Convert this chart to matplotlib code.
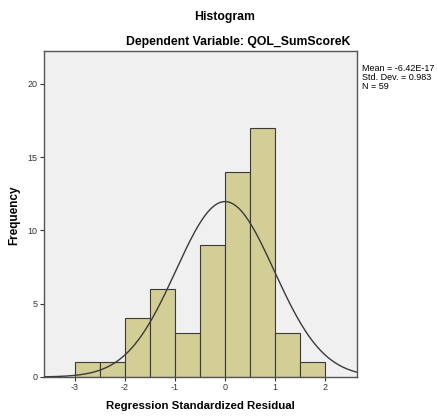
import matplotlib.pyplot as plt
import numpy as np

bin_edges = [-3.0, -2.5, -2.0, -1.5, -1.0, -0.5, 0.0, 0.5, 1.0, 1.5, 2.0]
counts = [1, 1, 4, 6, 3, 9, 14, 17, 3, 1]
mean_label = "-6.42E-17"
mean_val = -6.42e-17
std_val = 0.983
n_obs = 59
x_ticks = [-3, -2, -1, 0, 1, 2]
y_ticks = [0, 5, 10, 15, 20]

plt.rcParams["font.family"] = ["Liberation Sans", "DejaVu Sans"]
plt.rcParams["axes.unicode_minus"] = False

fig = plt.figure(figsize=(4.37, 4.17), dpi=100)
ax = fig.add_axes([44 / 437, 1 - 377 / 417, (357 - 44) / 437, (377 - 51) / 417])
ax.set_facecolor("#f0f0f0")

widths = np.diff(bin_edges)
ax.bar(bin_edges[:-1], counts, width=widths, align="edge",
       color="#d2ce96", edgecolor="#3a3a3a", linewidth=0.8, zorder=2)

# normal curve scaled to counts
xs = np.linspace(-3.62, 2.64, 300)
bw = widths[0]
ys = n_obs * bw / (std_val * np.sqrt(2 * np.pi)) * np.exp(-0.5 * ((xs - mean_val) / std_val) ** 2)
ax.plot(xs, ys, color="#3a3a3a", lw=1.0, zorder=3)

ax.set_xlim(-3.62, 2.64)
ax.set_ylim(0, 22.25)
ax.set_xticks(x_ticks)
ax.set_yticks(y_ticks)
ax.tick_params(labelsize=6.5, length=3, width=0.8, colors="#333333", pad=1.5)
for sp in ax.spines.values():
    sp.set_color("#555555")
    sp.set_linewidth(1.0)

ax.set_xlabel("Regression Standardized Residual", fontsize=8.2, fontweight="bold", labelpad=6)
ax.set_ylabel("Frequency", fontsize=8.5, fontweight="bold")
ax.yaxis.set_label_coords(-0.075, 0.497)

fig.text(225 / 437, 1 - 17 / 417, "Histogram", ha="center", va="center",
         fontsize=8.8, fontweight="bold")
fig.text(238 / 437, 1 - 42 / 417, "Dependent Variable: QOL_SumScoreK", ha="center", va="center",
         fontsize=8.8, fontweight="bold")
fig.text(362 / 437, 1 - 64 / 417,
         f"Mean = {mean_label}\nStd. Dev. = {std_val}\nN = {n_obs}",
         ha="left", va="top", fontsize=6.5, linespacing=1.0)

fig.savefig("out.png", dpi=100)
